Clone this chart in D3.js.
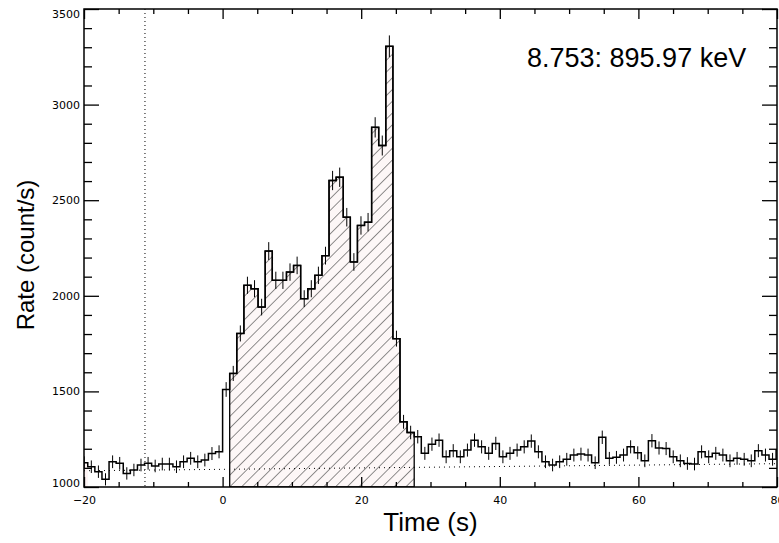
<!DOCTYPE html>
<html lang="en">
<head>
<meta charset="UTF-8">
<title>Rate (count/s)</title>
<script src="https://d3js.org/d3.v7.min.js"></script>
<style>
    body { margin: 0; background: #fff; }
    svg { display: block; }
    .tick text { font-family: "DejaVu Sans", sans-serif; font-size: 11px; fill: #000; }
</style>
</head>
<body>
<svg width="779" height="543"></svg>
<script>
    // light curve, 1.024 s bins, first bin starts at -20 * 1.024 s
    const binWidth = 1.024;
    const firstBin = -20;
    const rates = [
        // bins -20 .. -1
        1127, 1106, 1080, 1040, 1132, 1124, 1071, 1089, 1115, 1124,
        1110, 1120, 1120, 1106, 1132, 1150, 1132, 1141, 1175, 1184,
        // bins 0 .. 26
        1510, 1594, 1803, 2055, 2037, 1941, 2234, 2081, 2081, 2124,
        2159, 1985, 2037, 2107, 2210, 2603, 2620, 2411, 2177, 2368,
        2385, 2881, 2786, 3305, 1776, 1341, 1285,
        // bins 27 .. 50
        1263, 1176, 1224, 1245, 1158, 1190, 1158, 1193, 1245, 1210,
        1176, 1228, 1158, 1176, 1193, 1210, 1240, 1184, 1132, 1115,
        1132, 1145, 1167, 1172,
        // bins 51 .. 78
        1167, 1127, 1260, 1150, 1155, 1167, 1210, 1179, 1137, 1242,
        1204, 1201, 1158, 1137, 1123, 1120, 1184, 1158, 1176, 1167,
        1137, 1150, 1145, 1137, 1190, 1167, 1145, 1193
    ];
    // selected source interval (hatched), in bin numbers
    const srcBins = [1, 26];
    // background fit (dotted)
    const bgTimes = [-20, 80];
    const bgRates = [1085, 1122];
    const markerTime = -11.2;
    const xMajor = [-20, 0, 20, 40, 60, 80];
    const yMajor = [1000, 1500, 2000, 2500, 3000, 3500];
    const note = "8.753: 895.97 keV";

    const svg = d3.select("svg");
    const pLeft = 84, pRight = 777, pTop = 9, pBottom = 487;

    const x = d3.scaleLinear().domain([-20, 80]).range([pLeft, pRight]);
    const y = d3.scaleLinear().domain([1000, 3500]).range([pBottom, pTop]);

    const bins = rates.map((v, i) => ({ n: firstBin + i, t0: (firstBin + i) * binWidth, v: v }));
    // poisson error on a rate
    bins.forEach(d => d.e = Math.sqrt(d.v / binWidth));

    const defs = svg.append("defs");
    defs.append("clipPath").attr("id", "plot")
        .append("rect").attr("x", pLeft).attr("y", pTop)
        .attr("width", pRight - pLeft).attr("height", pBottom - pTop);

    const pat = defs.append("pattern")
        .attr("id", "hatch")
        .attr("patternUnits", "userSpaceOnUse")
        .attr("width", 8.3).attr("height", 8.3)
        .attr("patternTransform", "rotate(45)");
    pat.append("rect").attr("width", 8.3).attr("height", 8.3).attr("fill", "#fdf7f7");
    pat.append("line").attr("x1", 0).attr("y1", 0).attr("x2", 0).attr("y2", 8.3)
        .attr("stroke", "#222").attr("stroke-width", 1);

    const g = svg.append("g").attr("clip-path", "url(#plot)");

    function stepPoints(list) {
        const pts = list.map(d => [d.t0, d.v]);
        const last = list[list.length - 1];
        pts.push([last.t0 + binWidth, last.v]);
        return pts;
    }

    const area = d3.area()
        .x(d => x(d[0]))
        .y0(y(1000))
        .y1(d => y(d[1]))
        .curve(d3.curveStepAfter);

    // tiny pink piece at the left edge
    g.append("path")
        .datum(stepPoints(bins.slice(0, 1)))
        .attr("d", area)
        .attr("fill", "#fdf3f3");

    // hatched source interval
    const src = bins.filter(d => d.n >= srcBins[0] && d.n <= srcBins[1]);
    g.append("path")
        .datum(stepPoints(src))
        .attr("d", area)
        .attr("fill", "url(#hatch)")
        .attr("stroke", "#000")
        .attr("stroke-width", 1.3);

    // background fit
    g.append("line")
        .attr("x1", x(bgTimes[0])).attr("y1", y(bgRates[0]))
        .attr("x2", x(bgTimes[1])).attr("y2", y(bgRates[1]))
        .attr("stroke", "#000").attr("stroke-width", 1)
        .attr("stroke-dasharray", "1,4");

    // marker line
    g.append("line")
        .attr("x1", x(markerTime)).attr("y1", pTop)
        .attr("x2", x(markerTime)).attr("y2", pBottom)
        .attr("stroke", "#000").attr("stroke-width", 1)
        .attr("stroke-dasharray", "1,3");

    // histogram
    const line = d3.line()
        .x(d => x(d[0]))
        .y(d => y(d[1]))
        .curve(d3.curveStepAfter);

    g.append("path")
        .datum(stepPoints(bins))
        .attr("d", line)
        .attr("fill", "none")
        .attr("stroke", "#000")
        .attr("stroke-width", 1.5);

    // error bars
    g.selectAll(".err")
        .data(bins)
        .enter().append("line")
        .attr("x1", d => x(d.t0 + binWidth / 2))
        .attr("x2", d => x(d.t0 + binWidth / 2))
        .attr("y1", d => y(d.v - d.e))
        .attr("y2", d => y(d.v + d.e))
        .attr("stroke", "#000")
        .attr("stroke-width", 1);

    // axes, ticks pointing inwards
    const xMinor = d3.range(-20, 81, 5).filter(v => !xMajor.includes(v));
    const yMinor = d3.range(1000, 3501, 100).filter(v => !yMajor.includes(v));

    function addAxis(axis, tr) {
        const a = svg.append("g").attr("transform", tr).call(axis);
        a.select(".domain").remove();
        a.selectAll(".tick line").attr("stroke", "#000").attr("stroke-width", 1.3);
        return a;
    }

    addAxis(d3.axisBottom(x).tickValues(xMajor).tickSizeInner(-10).tickSizeOuter(0).tickPadding(9)
        .tickFormat(d3.format("d")), `translate(0,${pBottom})`);
    addAxis(d3.axisBottom(x).tickValues(xMinor).tickSizeInner(-5).tickSizeOuter(0).tickFormat(""),
        `translate(0,${pBottom})`);
    addAxis(d3.axisTop(x).tickValues(xMajor).tickSizeInner(-10).tickSizeOuter(0).tickFormat(""),
        `translate(0,${pTop})`);
    addAxis(d3.axisTop(x).tickValues(xMinor).tickSizeInner(-5).tickSizeOuter(0).tickFormat(""),
        `translate(0,${pTop})`);

    const yAx = addAxis(d3.axisLeft(y).tickValues(yMajor).tickSizeInner(-15).tickSizeOuter(0).tickPadding(4)
        .tickFormat(d3.format("d")), `translate(${pLeft},0)`);
    yAx.selectAll(".tick text").attr("dy", d => d === 3500 ? "0.75em" : d === 1000 ? "-0.05em" : "0.32em");
    addAxis(d3.axisLeft(y).tickValues(yMinor).tickSizeInner(-8).tickSizeOuter(0).tickFormat(""),
        `translate(${pLeft},0)`);
    addAxis(d3.axisRight(y).tickValues(yMajor).tickSizeInner(-15).tickSizeOuter(0).tickFormat(""),
        `translate(${pRight},0)`);
    addAxis(d3.axisRight(y).tickValues(yMinor).tickSizeInner(-8).tickSizeOuter(0).tickFormat(""),
        `translate(${pRight},0)`);

    svg.append("rect")
        .attr("x", pLeft).attr("y", pTop)
        .attr("width", pRight - pLeft).attr("height", pBottom - pTop)
        .attr("fill", "none").attr("stroke", "#000").attr("stroke-width", 1.5);

    // titles
    svg.append("text")
        .attr("x", (pLeft + pRight) / 2).attr("y", 531)
        .attr("text-anchor", "middle")
        .attr("font-family", "Liberation Sans, Arial, sans-serif")
        .attr("font-size", 26)
        .text("Time (s)");

    svg.append("text")
        .attr("transform", "translate(34,255) rotate(-90)")
        .attr("text-anchor", "middle")
        .attr("font-family", "Liberation Sans, Arial, sans-serif")
        .attr("font-size", 24)
        .text("Rate (count/s)");

    svg.append("text")
        .attr("x", 527).attr("y", 67)
        .attr("font-family", "Liberation Sans, Arial, sans-serif")
        .attr("font-size", 27)
        .text(note);
</script>
</body>
</html>
